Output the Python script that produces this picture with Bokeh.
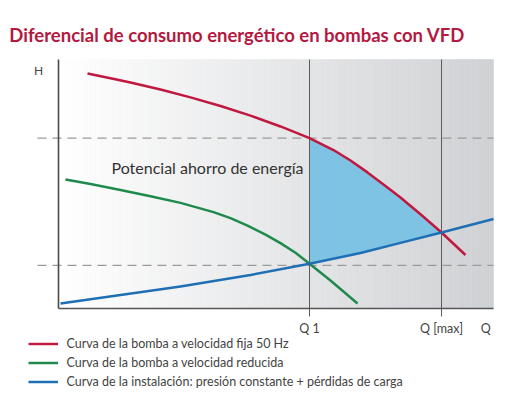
import numpy as np
from bokeh.plotting import figure
from bokeh.models import Range1d, Legend, LegendItem
from bokeh.core.properties import value
from bokeh.embed import file_html
from bokeh.resources import INLINE

# ---------------- data ----------------
title_text = "Diferencial de consumo energético en bombas con VFD"
area_label = "Potencial ahorro de energía"
y_label = "H"

red_q = [6.67, 11.95, 16.55, 23.45, 30.35, 37.24, 44.14, 51.03, 57.70, 63.22,
         67.13, 71.03, 75.17, 78.62, 83.22, 88.05, 93.56]
red_h = [94.38, 92.49, 90.76, 87.93, 84.80, 81.31, 77.45, 73.11, 68.45, 63.65,
         59.44, 54.66, 49.16, 44.58, 37.83, 30.52, 21.49]

green_q = [1.61, 7.36, 14.25, 21.15, 28.05, 35.63, 39.54, 43.45, 47.59, 51.03,
           54.48, 57.70, 62.53, 68.74]
green_h = [51.81, 49.96, 47.59, 45.12, 42.41, 38.71, 36.27, 33.25, 29.64, 26.27,
           22.41, 17.95, 11.24, 2.01]

blue_q = [0.46, 14.25, 28.05, 44.14, 57.70, 69.43, 78.62, 88.05, 100.0]
blue_h = [2.01, 5.42, 8.84, 13.45, 17.95, 22.29, 26.35, 30.52, 35.94]

Q1 = 57.70
QMAX = 88.05
H_HIGH = 68.4
H_LOW = 17.3

tick_labels = ["Q 1", "Q [max]", "Q"]
tick_pos = [Q1, QMAX, 98.2]

legend_labels = [
    "Curva de la bomba a velocidad fija 50 Hz",
    "Curva de la bomba a velocidad reducida",
    "Curva de la instalación: presión constante + pérdidas de carga",
]

RED = "#c0183f"
GREEN = "#1f8a4c"
BLUE = "#1f6fb4"
FILL = "#7fc3e4"
FONT = value("Lato")

# ---------------- figure ----------------
p = figure(width=530, height=397, output_backend="svg", toolbar_location=None,
           x_axis_location=None, y_axis_location=None, min_border=0,
           x_range=Range1d(-13.333, 108.506), y_range=Range1d(-35.743, 123.695))
p.grid.visible = False
p.outline_line_color = None
p.background_fill_color = "white"
p.border_fill_color = "white"

# background gradient of the chart area
n = 120
edges = np.linspace(0, 100, n + 1)
t = np.linspace(0, 1, n)
c0 = np.array([255, 255, 255])
c1 = np.array([207, 209, 212])
cols = ["#%02x%02x%02x" % tuple(int(round(v)) for v in (c0 + (c1 - c0) * tt)) for tt in t]
p.quad(left=edges[:-1], right=edges[1:], bottom=0, top=100,
       fill_color=cols, line_color=cols, line_width=0.6)

# energy-saving area between fixed-speed pump curve and system curve
rq = [q for q in red_q if Q1 - 1e-6 <= q <= QMAX + 1e-6]
rh = [h for q, h in zip(red_q, red_h) if Q1 - 1e-6 <= q <= QMAX + 1e-6]
bq = [q for q in blue_q if Q1 - 1e-6 <= q <= QMAX + 1e-6][::-1]
bh = [h for q, h in zip(blue_q, blue_h) if Q1 - 1e-6 <= q <= QMAX + 1e-6][::-1]
p.patch(rq + bq, rh + bh, fill_color=FILL, line_color=None)

# dashed reference levels
for h in (H_HIGH, H_LOW):
    p.line([-4.83, 100], [h, h], line_color="#9a9a9a", line_width=1.2, line_dash="9 6")

# vertical lines at Q1 and Qmax
for q in (Q1, QMAX):
    p.line([q, q], [-3.2, 100], line_color="#5a5a5a", line_width=1)

# axes lines
p.line([0, 0], [0, 100], line_color="#4a4a4a", line_width=1.6)
p.line([0, 100], [0, 0], line_color="#555555", line_width=1.6)

# curves
r_red = p.line(red_q, red_h, line_color=RED, line_width=2.5, line_join="round")
r_green = p.line(green_q, green_h, line_color=GREEN, line_width=2.5, line_join="round")
r_blue = p.line(blue_q, blue_h, line_color=BLUE, line_width=2.5, line_join="round")

# texts
p.text(x=[-11.3], y=[109.84], text=[title_text], text_font=FONT, text_font_size="18.5px",
       text_font_style="bold", text_color="#b4193f", text_baseline="alphabetic",
       text_align="left")
p.text(x=[12.18], y=[56.43], text=[area_label], text_font=FONT, text_font_size="16px",
       text_color="#333333", text_baseline="alphabetic", text_align="left")
p.text(x=[-4.6], y=[95.58], text=[y_label], text_font=FONT, text_font_size="12px",
       text_color="#444444", text_baseline="alphabetic", text_align="center")
p.text(x=tick_pos, y=[-8.03] * len(tick_pos), text=tick_labels, text_font=FONT,
       text_font_size="12.5px", text_color="#444444", text_baseline="alphabetic",
       text_align="center")

legend = Legend(
    items=[LegendItem(label=legend_labels[0], renderers=[r_red]),
           LegendItem(label=legend_labels[1], renderers=[r_green]),
           LegendItem(label=legend_labels[2], renderers=[r_blue])],
    location=(27.5, 7.5), orientation="vertical",
    glyph_width=30, glyph_height=17, label_height=17, spacing=2,
    padding=0, margin=0, label_standoff=9,
    label_text_font="Lato", label_text_font_size="12.5px", label_text_color="#444444",
    background_fill_alpha=0, border_line_alpha=0,
)
p.add_layout(legend)

open("out.html", "w").write(file_html(p, INLINE))
